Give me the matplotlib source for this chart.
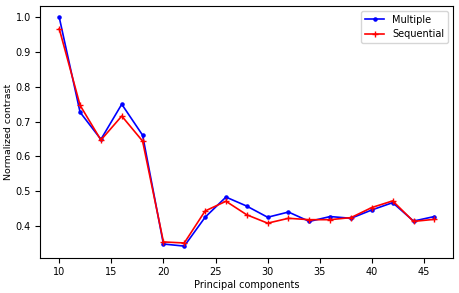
import matplotlib
matplotlib.use("Agg")
import matplotlib.pyplot as plt

components = [10, 12, 14, 16, 18, 20, 22, 24, 26, 28, 30, 32, 34, 36, 38, 40, 42, 44, 46]
multiple = [1.0, 0.727, 0.649, 0.75, 0.661, 0.348, 0.342, 0.425, 0.483, 0.457,
            0.425, 0.44, 0.413, 0.427, 0.422, 0.446, 0.467, 0.414, 0.427]
sequential = [0.967, 0.747, 0.647, 0.716, 0.644, 0.354, 0.351, 0.443, 0.471, 0.432,
              0.408, 0.422, 0.418, 0.418, 0.424, 0.453, 0.472, 0.413, 0.419]

plt.rcParams["font.size"] = 7

fig, ax = plt.subplots(figsize=(4.6, 2.93), dpi=100)
fig.subplots_adjust(left=0.088, right=0.985, top=0.98, bottom=0.121)

ax.plot(components, multiple, color="blue", marker=".", markersize=4.5, linewidth=1.2, label="Multiple")
ax.plot(components, sequential, color="red", marker="+", markersize=5, linewidth=1.2, label="Sequential")

ax.set_xlabel("Principal components", labelpad=2)
ax.set_ylabel("Normalized contrast", fontsize=6.8, labelpad=2)
ax.legend(loc="upper right")

fig.savefig("out.png", dpi=100)
